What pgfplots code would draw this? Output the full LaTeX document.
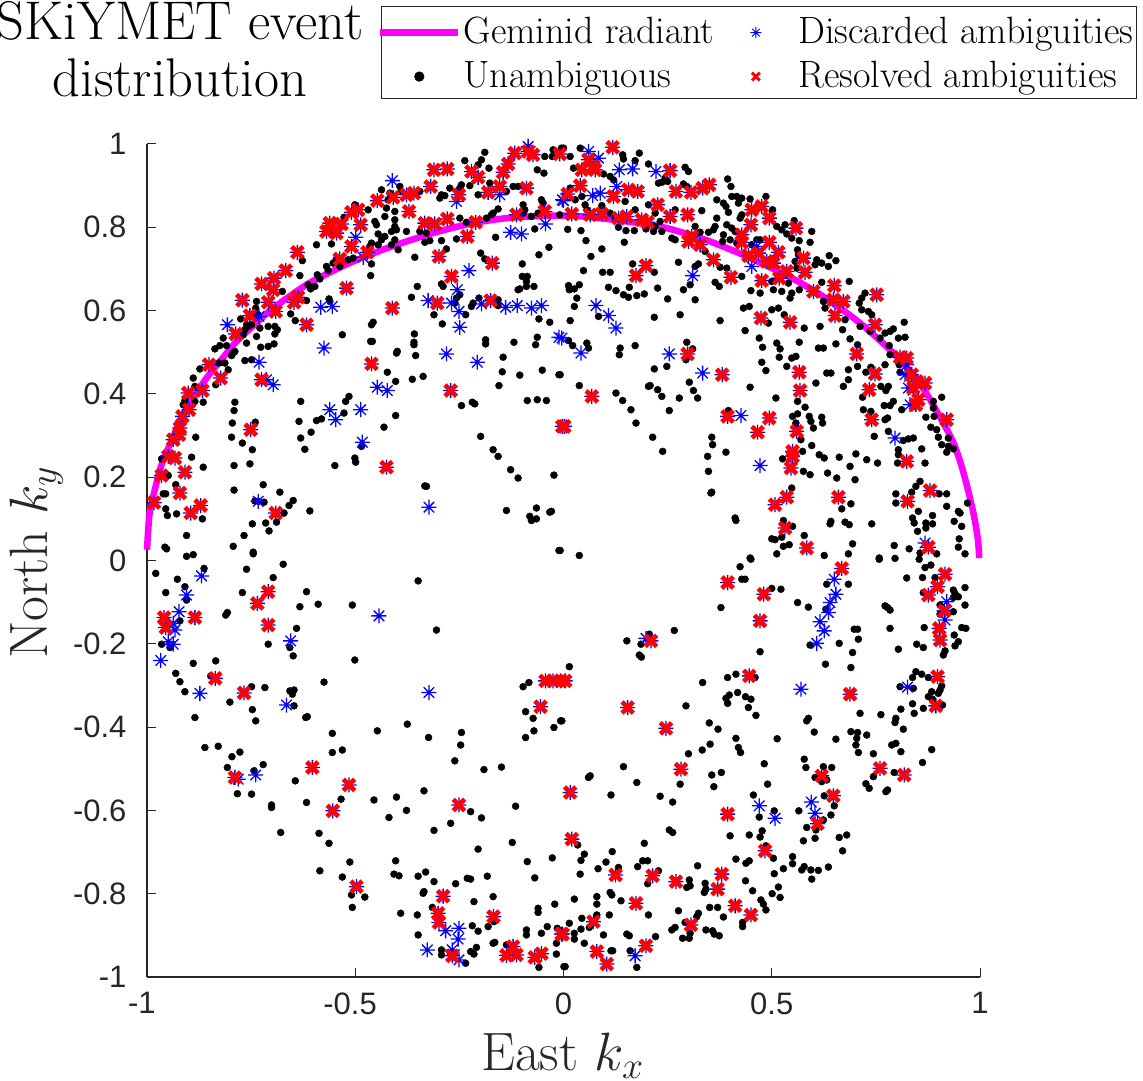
\RequirePackage{fix-cm}
\documentclass[border=0pt]{standalone}
\usepackage{fontspec}
\usepackage{pgfplots}
\usepackage{pgfplotstable}
\pgfplotsset{compat=1.18}
\newfontfamily\tickfont{Liberation Sans}
\definecolor{mag}{rgb}{1,0,1}
\pgfdeclareplotmark{ast8}{%
\pgfpathmoveto{\pgfqpoint{-\pgfplotmarksize}{0pt}}\pgfpathlineto{\pgfqpoint{\pgfplotmarksize}{0pt}}%
\pgfpathmoveto{\pgfqpoint{0pt}{-\pgfplotmarksize}}\pgfpathlineto{\pgfqpoint{0pt}{\pgfplotmarksize}}%
\pgfpathmoveto{\pgfqpoint{-.7\pgfplotmarksize}{-.7\pgfplotmarksize}}\pgfpathlineto{\pgfqpoint{.7\pgfplotmarksize}{.7\pgfplotmarksize}}%
\pgfpathmoveto{\pgfqpoint{-.7\pgfplotmarksize}{.7\pgfplotmarksize}}\pgfpathlineto{\pgfqpoint{.7\pgfplotmarksize}{-.7\pgfplotmarksize}}%
\pgfusepathqstroke}
\pgfplotstableread[row sep=crcr]{x y\\
-1.000 0.026\\-0.997 0.075\\-0.993 0.118\\-0.980 0.175\\-0.965 0.230\\-0.940 0.290\\-0.913 0.350\\-0.885 0.396\\-0.857 0.438\\-0.820 0.484\\-0.785 0.526\\-0.740 0.568\\-0.697 0.606\\-0.617 0.662\\-0.560 0.692\\-0.505 0.718\\-0.440 0.744\\-0.377 0.766\\-0.300 0.790\\-0.217 0.810\\-0.137 0.822\\-0.060 0.827\\0.003 0.828\\0.060 0.825\\0.120 0.818\\0.190 0.809\\0.248 0.798\\0.300 0.783\\0.352 0.766\\0.440 0.730\\0.552 0.676\\0.632 0.628\\0.712 0.570\\0.792 0.498\\0.840 0.445\\0.872 0.400\\0.928 0.300\\0.950 0.245\\0.968 0.182\\0.985 0.110\\0.995 0.050\\0.998 0.006\\
}\curveT
\pgfplotstableread[row sep=crcr]{x y\\
-0.189 0.980\\-0.197 0.962\\-0.237 0.960\\-0.205 0.950\\-0.179 0.942\\-0.063 0.938\\-0.047 0.930\\-0.045 0.970\\-0.025 0.986\\-0.027 0.970\\-0.005 0.990\\-0.437 0.890\\-0.393 0.898\\-0.389 0.886\\-0.345 0.886\\-0.273 0.894\\-0.245 0.902\\-0.225 0.900\\-0.249 0.894\\-0.293 0.878\\-0.285 0.876\\-0.297 0.870\\-0.205 0.878\\-0.177 0.906\\-0.121 0.898\\-0.109 0.898\\-0.137 0.886\\-0.097 0.854\\-0.053 0.866\\-0.049 0.858\\
-0.417 0.882\\-0.421 0.866\\-0.425 0.846\\-0.405 0.838\\-0.429 0.826\\-0.405 0.818\\-0.453 0.814\\-0.449 0.806\\-0.405 0.802\\-0.413 0.790\\-0.401 0.794\\-0.445 0.784\\-0.429 0.778\\-0.437 0.770\\-0.405 0.770\\-0.413 0.758\\-0.445 0.758\\-0.461 0.762\\-0.465 0.754\\-0.377 0.790\\-0.345 0.790\\-0.329 0.786\\-0.293 0.768\\-0.333 0.764\\-0.321 0.768\\-0.257 0.772\\-0.281 0.748\\-0.357 0.728\\-0.397 0.746\\-0.163 0.776\\-0.069 0.796\\-0.059 0.734\\-0.035 0.752\\-0.199 0.738\\-0.189 0.724\\-0.099 0.712\\-0.099 0.682\\-0.087 0.682\\-0.089 0.670\\-0.089 0.658\\-0.071 0.658\\-0.105 0.652\\-0.109 0.650\\
-0.249 0.822\\-0.233 0.812\\-0.185 0.822\\-0.173 0.830\\-0.157 0.844\\-0.169 0.834\\-0.097 0.834\\-0.093 0.842\\-0.077 0.826\\-0.061 0.834\\-0.009 0.830\\
-0.593 0.758\\-0.557 0.760\\-0.501 0.854\\-0.469 0.842\\-0.527 0.824\\-0.545 0.724\\-0.553 0.714\\-0.537 0.706\\-0.517 0.722\\-0.505 0.726\\-0.461 0.712\\-0.569 0.706\\-0.565 0.696\\-0.591 0.686\\-0.585 0.676\\-0.613 0.662\\-0.607 0.652\\-0.597 0.658\\-0.463 0.684\\-0.627 0.720\\-0.633 0.684\\-0.675 0.646\\-0.617 0.624\\-0.563 0.628\\-0.655 0.592\\-0.644 0.576\\-0.561 0.622\\
-0.737 0.622\\-0.739 0.606\\-0.733 0.590\\-0.741 0.582\\-0.761 0.566\\-0.765 0.554\\-0.757 0.562\\-0.749 0.566\\-0.769 0.542\\-0.761 0.522\\-0.737 0.538\\-0.729 0.558\\-0.709 0.562\\-0.693 0.562\\-0.687 0.554\\-0.693 0.544\\-0.727 0.512\\-0.709 0.514\\-0.695 0.520\\
-0.775 0.580\\-0.817 0.534\\-0.809 0.516\\-0.825 0.516\\-0.837 0.508\\-0.793 0.498\\-0.789 0.502\\-0.797 0.492\\-0.765 0.480\\-0.749 0.482\\-0.827 0.474\\-0.813 0.474\\-0.805 0.458\\-0.835 0.422\\-0.889 0.438\\-0.885 0.418\\-0.873 0.460\\
-0.909 0.384\\-0.913 0.374\\-0.885 0.382\\-0.865 0.380\\-0.883 0.296\\-0.893 0.248\\-0.865 0.224\\-0.965 0.244\\-0.949 0.204\\-0.931 0.182\\-0.961 0.160\\-0.955 0.160\\-0.955 0.124\\-0.951 0.108\\-0.929 0.112\\-0.867 0.100\\-0.905 0.060\\-0.957 0.032\\-0.953 0.028\\-0.905 0.010\\-0.889 0.014\\
-0.789 0.380\\-0.791 0.360\\-0.795 0.330\\-0.797 0.296\\-0.771 0.282\\-0.747 0.266\\-0.791 0.228\\-0.753 0.232\\-0.740 0.332\\
-0.631 0.382\\-0.635 0.334\\-0.631 0.294\\-0.606 0.308\\-0.621 0.267\\-0.593 0.336\\-0.581 0.340\\-0.527 0.354\\-0.523 0.382\\-0.515 0.394\\-0.549 0.228\\-0.501 0.246\\-0.499 0.236\\-0.431 0.320\\-0.403 0.348\\-0.485 0.274\\
-0.531 0.542\\-0.461 0.566\\-0.457 0.572\\-0.463 0.526\\-0.459 0.526\\-0.399 0.502\\-0.401 0.498\\-0.423 0.452\\-0.403 0.430\\-0.363 0.435\\-0.337 0.442\\-0.355 0.492\\-0.359 0.518\\-0.359 0.524\\-0.358 0.544\\-0.365 0.632\\-0.351 0.658\\-0.311 0.590\\-0.291 0.568\\-0.293 0.664\\-0.289 0.658\\
-0.257 0.630\\-0.249 0.638\\-0.261 0.618\\-0.217 0.618\\-0.221 0.610\\-0.235 0.590\\-0.203 0.630\\-0.157 0.626\\-0.157 0.612\\-0.059 0.580\\-0.033 0.572\\-0.187 0.530\\-0.187 0.520\\-0.119 0.524\\-0.063 0.536\\-0.067 0.518\\-0.145 0.488\\-0.147 0.453\\-0.105 0.445\\-0.051 0.457\\-0.011 0.446\\-0.155 0.420\\-0.087 0.384\\-0.063 0.386\\-0.041 0.384\\-0.219 0.380\\-0.213 0.376\\-0.245 0.372\\
-0.199 0.298\\-0.169 0.266\\-0.157 0.250\\-0.127 0.218\\-0.109 0.198\\-0.023 0.205\\-0.137 0.120\\-0.065 0.126\\-0.081 0.106\\-0.077 0.096\\-0.065 0.100\\-0.033 0.116\\-0.029 0.118\\-0.333 0.179\\-0.329 0.178\\-0.011 0.024\\
-0.721 0.182\\-0.791 0.169\\-0.681 0.164\\-0.649 0.144\\-0.659 0.132\\-0.671 0.114\\-0.609 0.119\\-0.689 0.092\\-0.715 0.090\\-0.747 0.088\\-0.707 0.071\\-0.767 0.060\\-0.793 0.034\\-0.745 0.020\\-0.745 0.016\\-0.733 0.142\\-0.741 0.143\\-0.719 0.140\\
0.000 0.990\\0.040 0.990\\0.016 0.970\\0.024 0.942\\0.142 0.974\\0.144 0.964\\0.172 0.960\\0.182 0.978\\0.204 0.952\\0.292 0.944\\0.300 0.934\\0.096 0.928\\0.112 0.922\\0.120 0.914\\0.244 0.918\\0.236 0.908\\0.228 0.906\\0.250 0.910\\0.288 0.904\\0.296 0.898\\0.394 0.916\\0.402 0.898\\0.368 0.866\\0.384 0.858\\0.390 0.850\\0.404 0.874\\0.416 0.874\\0.428 0.870\\0.420 0.858\\0.448 0.868\\0.486 0.874\\0.502 0.842\\0.396 0.836\\0.428 0.830\\0.424 0.822\\0.368 0.822\\0.332 0.840\\0.364 0.802\\0.360 0.794\\0.392 0.806\\0.404 0.798\\0.348 0.788\\0.328 0.788\\0.316 0.802\\0.412 0.790\\0.384 0.782\\0.382 0.766\\0.400 0.770\\0.416 0.762\\0.452 0.758\\0.464 0.770\\0.472 0.770\\0.512 0.802\\0.524 0.794\\0.532 0.806\\0.536 0.784\\0.554 0.816\\0.548 0.774\\0.566 0.768\\0.596 0.790\\0.592 0.764\\0.562 0.746\\0.564 0.734\\0.556 0.718\\0.560 0.702\\0.608 0.722\\0.604 0.710\\0.620 0.714\\0.636 0.706\\0.638 0.732\\0.654 0.720\\0.686 0.670\\0.620 0.668\\0.724 0.642\\0.716 0.630\\0.710 0.618\\0.716 0.602\\0.732 0.598\\0.740 0.590\\0.818 0.572\\0.804 0.534\\0.820 0.536\\0.792 0.556\\0.784 0.550\\0.772 0.546\\0.760 0.534\\0.782 0.516\\0.784 0.494\\0.736 0.550\\0.712 0.562\\0.676 0.578\\0.628 0.606\\0.624 0.622\\0.544 0.630\\0.548 0.642\\0.566 0.650\\0.524 0.646\\0.504 0.650\\0.472 0.642\\0.450 0.648\\0.500 0.670\\0.540 0.666\\0.428 0.682\\0.392 0.702\\0.376 0.704\\0.364 0.668\\0.374 0.658\\0.340 0.742\\0.324 0.712\\0.316 0.706\\0.276 0.716\\0.260 0.774\\0.268 0.770\\0.236 0.790\\0.216 0.790\\0.198 0.796\\0.170 0.792\\0.150 0.792\\0.132 0.800\\0.146 0.764\\0.042 0.792\\0.010 0.795\\0.054 0.768\\0.092 0.748\\0.066 0.730\\0.048 0.696\\0.094 0.692\\0.112 0.692\\0.166 0.712\\0.218 0.692\\
0.012 0.660\\0.014 0.650\\0.026 0.652\\0.038 0.662\\0.032 0.630\\0.026 0.610\\0.016 0.576\\0.108 0.656\\0.126 0.648\\0.158 0.656\\0.144 0.638\\0.156 0.632\\0.176 0.636\\0.194 0.640\\0.226 0.654\\0.250 0.628\\0.288 0.650\\0.304 0.662\\0.316 0.626\\0.218 0.584\\0.280 0.590\\0.084 0.586\\0.376 0.576\\0.432 0.606\\0.446 0.610\\0.500 0.602\\0.516 0.606\\0.530 0.590\\0.436 0.552\\0.492 0.570\\0.578 0.558\\0.616 0.562\\0.670 0.554\\0.470 0.534\\0.478 0.512\\0.512 0.522\\0.520 0.508\\0.518 0.488\\0.566 0.524\\0.476 0.476\\0.486 0.456\\0.536 0.466\\0.548 0.486\\0.558 0.490\\0.612 0.510\\0.624 0.510\\0.654 0.520\\0.688 0.532\\0.706 0.518\\0.706 0.466\\0.684 0.458\\0.632 0.450\\0.642 0.450\\0.606 0.426\\0.672 0.418\\0.684 0.434\\0.726 0.452\\0.738 0.464\\0.772 0.470\\0.762 0.418\\0.780 0.418\\0.774 0.408\\0.718 0.392\\0.792 0.382\\0.770 0.372\\0.784 0.372\\0.812 0.362\\0.806 0.470\\0.808 0.452\\
0.908 0.392\\0.888 0.382\\0.888 0.366\\0.870 0.344\\0.890 0.346\\0.882 0.320\\0.896 0.314\\0.900 0.296\\0.924 0.294\\0.908 0.278\\0.924 0.274\\0.936 0.268\\0.920 0.260\\0.840 0.294\\0.828 0.292\\0.816 0.288\\0.860 0.268\\0.868 0.234\\0.804 0.266\\0.804 0.254\\0.802 0.234\\0.780 0.310\\0.772 0.338\\0.778 0.342\\0.720 0.362\\0.738 0.358\\0.746 0.298\\
0.856 0.190\\0.846 0.178\\0.836 0.164\\0.798 0.160\\0.798 0.138\\0.902 0.160\\0.920 0.160\\0.920 0.130\\0.970 0.138\\0.948 0.118\\0.952 0.114\\0.938 0.094\\0.956 0.082\\0.950 0.052\\0.948 0.032\\0.964 0.016\\0.852 0.118\\0.886 0.108\\0.838 0.102\\0.842 0.090\\0.870 0.090\\0.886 0.088\\0.870 0.078\\0.850 0.070\\0.830 0.028\\0.794 0.036\\0.856 0.018\\0.896 0.016\\
0.690 0.136\\0.668 0.124\\0.740 0.088\\0.694 0.040\\0.642 0.094\\0.640 0.088\\0.676 0.092\\0.686 0.086\\0.578 0.060\\0.684 0.016\\0.758 0.006\\0.626 0.012\\0.548 0.174\\0.528 0.096\\0.550 0.082\\0.524 0.056\\0.500 0.052\\0.508 0.050\\0.528 0.034\\0.542 0.038\\0.512 0.016\\0.448 0.006\\0.412 0.102\\0.414 0.096\\0.354 0.162\\0.356 0.164\\0.348 0.214\\0.346 0.250\\0.390 0.260\\0.358 0.278\\0.356 0.296\\0.448 0.416\\0.510 0.390\\
0.526 0.244\\0.574 0.262\\0.596 0.276\\0.614 0.254\\0.626 0.246\\0.662 0.248\\0.702 0.256\\0.728 0.242\\0.754 0.234\\0.688 0.226\\0.700 0.194\\0.656 0.198\\0.634 0.210\\0.592 0.206\\0.576 0.214\\
0.562 0.382\\0.580 0.368\\0.550 0.346\\0.562 0.352\\0.558 0.330\\0.558 0.320\\0.570 0.290\\0.590 0.346\\0.594 0.334\\0.600 0.318\\0.620 0.344\\0.622 0.330\\
0.296 0.524\\0.310 0.508\\0.294 0.482\\0.172 0.516\\0.136 0.510\\0.134 0.494\\0.056 0.522\\0.060 0.510\\0.022 0.516\\0.012 0.528\\0.218 0.460\\0.248 0.466\\-0.008 0.446\\0.038 0.420\\0.126 0.402\\0.142 0.384\\0.162 0.362\\0.174 0.330\\0.214 0.296\\0.238 0.262\\0.254 0.360\\0.204 0.418\\0.208 0.420\\0.226 0.410\\0.236 0.394\\0.278 0.390\\0.302 0.428\\0.312 0.408\\0.322 0.390\\0.396 0.360\\-0.008 0.024\\0.038 0.012\\
0.052 0.854\\0.056 0.842\\0.092 0.852\\0.112 0.834\\0.124 0.822\\0.172 0.842\\0.148 0.862\\0.204 0.854\\0.220 0.834\\0.232 0.814\\0.220 0.802\\0.268 0.842\\0.028 0.866\\0.044 0.874\\0.016 0.894\\
-0.979 -0.031\\-0.863 -0.019\\-0.927 -0.045\\-0.955 -0.077\\-0.909 -0.063\\-0.761 -0.021\\-0.673 -0.009\\-0.697 -0.041\\-0.771 -0.077\\-0.617 -0.075\\-0.633 -0.111\\-0.589 -0.105\\-0.349 -0.049\\-0.507 -0.107\\-0.807 -0.125\\-0.811 -0.131\\-0.305 -0.167\\-0.641 -0.163\\-0.709 -0.201\\-0.657 -0.209\\-0.649 -0.229\\-0.501 -0.239\\-0.905 -0.095\\-0.921 -0.145\\-0.965 -0.201\\-0.945 -0.209\\-0.889 -0.247\\-0.835 -0.241\\-0.931 -0.271\\-0.921 -0.291\\-0.909 -0.315\\-0.847 -0.277\\-0.801 -0.340\\-0.885 -0.377\\-0.749 -0.303\\-0.717 -0.305\\-0.657 -0.313\\-0.647 -0.311\\-0.651 -0.321\\-0.647 -0.349\\-0.747 -0.358\\-0.739 -0.385\\-0.619 -0.377\\-0.615 -0.375\\-0.575 -0.292\\-0.555 -0.415\\-0.447 -0.409\\-0.375 -0.393\\-0.324 -0.425\\-0.245 -0.413\\-0.247 -0.443\\-0.261 -0.481\\-0.191 -0.502\\-0.149 -0.496\\-0.097 -0.303\\-0.083 -0.293\\-0.091 -0.363\\-0.073 -0.379\\-0.007 -0.385\\-0.023 -0.401\\-0.071 -0.409\\-0.091 -0.425\\
-0.861 -0.449\\-0.829 -0.446\\-0.777 -0.460\\-0.796 -0.471\\-0.807 -0.497\\-0.721 -0.490\\-0.743 -0.505\\-0.783 -0.560\\-0.749 -0.561\\-0.701 -0.587\\-0.701 -0.593\\-0.679 -0.653\\-0.644 -0.529\\-0.617 -0.581\\-0.555 -0.461\\-0.531 -0.455\\-0.534 -0.573\\-0.455 -0.575\\-0.401 -0.568\\-0.335 -0.553\\-0.419 -0.617\\-0.377 -0.600\\-0.271 -0.631\\-0.311 -0.648\\-0.223 -0.603\\-0.197 -0.618\\-0.115 -0.590\\-0.123 -0.677\\-0.205 -0.693\\-0.587 -0.655\\-0.563 -0.679\\-0.513 -0.724\\-0.585 -0.745\\-0.531 -0.760\\-0.403 -0.721\\-0.407 -0.753\\-0.395 -0.757\\-0.349 -0.758\\-0.331 -0.748\\-0.311 -0.771\\-0.259 -0.776\\-0.231 -0.763\\-0.223 -0.765\\-0.183 -0.758\\-0.087 -0.723\\-0.027 -0.714\\-0.069 -0.762\\-0.337 -0.799\\-0.335 -0.795\\-0.509 -0.803\\-0.477 -0.808\\-0.507 -0.833\\-0.391 -0.847\\-0.351 -0.851\\-0.349 -0.899\\-0.315 -0.833\\-0.215 -0.819\\-0.169 -0.807\\-0.061 -0.835\\-0.061 -0.845\\-0.021 -0.825\\-0.219 -0.877\\-0.205 -0.890\\-0.181 -0.879\\-0.167 -0.867\\-0.089 -0.887\\-0.089 -0.899\\-0.053 -0.895\\-0.039 -0.879\\-0.015 -0.883\\-0.017 -0.919\\-0.169 -0.919\\-0.165 -0.917\\-0.137 -0.923\\-0.209 -0.929\\-0.223 -0.939\\-0.215 -0.945\\-0.235 -0.967\\-0.293 -0.935\\-0.293 -0.947\\-0.017 -0.945\\-0.059 -0.977\\0.001 -0.975\\
0.450 0.003\\0.424 -0.015\\0.428 -0.045\\0.436 -0.045\\0.500 -0.067\\0.522 -0.069\\0.378 -0.113\\0.266 -0.168\\0.152 -0.193\\0.186 -0.201\\0.206 -0.177\\0.182 -0.227\\0.187 -0.232\\0.014 -0.255\\0.472 -0.219\\0.562 -0.101\\0.588 -0.112\\0.632 -0.057\\0.684 -0.057\\0.630 -0.117\\0.592 -0.203\\0.662 -0.199\\0.698 -0.165\\0.706 -0.165\\0.708 -0.189\\0.694 -0.221\\0.629 -0.249\\0.690 -0.257\\
0.758 0.003\\0.796 0.005\\0.854 0.003\\0.868 -0.017\\0.882 -0.011\\0.824 -0.042\\0.862 -0.041\\0.892 -0.041\\0.936 -0.071\\0.940 -0.079\\0.964 -0.065\\0.864 -0.077\\0.936 -0.089\\0.948 -0.087\\0.772 -0.109\\0.778 -0.113\\0.784 -0.119\\0.964 -0.107\\0.936 -0.123\\0.904 -0.129\\0.904 -0.107\\0.784 -0.163\\0.866 -0.161\\0.956 -0.161\\0.966 -0.163\\0.938 -0.179\\0.948 -0.195\\0.940 -0.205\\0.848 -0.201\\0.864 -0.209\\0.804 -0.213\\0.916 -0.217\\0.912 -0.227\\
0.846 -0.267\\0.860 -0.273\\0.838 -0.281\\0.876 -0.281\\0.808 -0.303\\0.840 -0.307\\0.908 -0.301\\0.904 -0.311\\0.884 -0.315\\0.876 -0.327\\0.886 -0.333\\0.900 -0.319\\0.910 -0.347\\0.838 -0.344\\0.864 -0.355\\0.810 -0.357\\0.842 -0.367\\0.762 -0.370\\0.798 -0.379\\0.796 -0.389\\0.816 -0.405\\0.712 -0.367\\0.690 -0.411\\0.706 -0.413\\0.728 -0.419\\0.704 -0.427\\0.708 -0.461\\0.702 -0.443\\0.654 -0.429\\0.602 -0.412\\0.588 -0.379\\0.584 -0.385\\0.788 -0.443\\0.798 -0.439\\0.810 -0.459\\0.884 -0.454\\0.862 -0.485\\0.744 -0.464\\0.794 -0.509\\0.744 -0.519\\0.726 -0.536\\0.734 -0.547\\0.774 -0.555\\0.778 -0.551\\
0.578 -0.477\\0.582 -0.497\\0.624 -0.495\\0.644 -0.497\\0.604 -0.521\\0.620 -0.531\\0.632 -0.527\\0.626 -0.565\\0.650 -0.589\\0.565 -0.601\\0.642 -0.611\\0.624 -0.623\\0.584 -0.641\\0.606 -0.647\\0.604 -0.667\\0.576 -0.673\\0.662 -0.665\\0.680 -0.659\\0.670 -0.697\\
0.506 -0.601\\0.470 -0.616\\0.490 -0.537\\0.482 -0.488\\0.456 -0.563\\0.513 -0.428\\0.414 -0.427\\0.420 -0.449\\0.425 -0.461\\0.352 -0.441\\0.333 -0.455\\0.300 -0.464\\0.371 -0.405\\0.350 -0.390\\0.462 -0.372\\0.444 -0.353\\0.450 -0.333\\0.437 -0.327\\0.418 -0.317\\0.398 -0.323\\0.390 -0.331\\0.394 -0.343\\0.334 -0.293\\0.294 -0.349\\0.394 -0.281\\0.414 -0.273\\0.460 -0.281\\
-0.004 -0.385\\0.144 -0.495\\0.060 -0.521\\0.064 -0.517\\0.176 -0.533\\0.114 -0.563\\0.232 -0.566\\0.262 -0.580\\0.356 -0.515\\0.379 -0.509\\0.280 -0.537\\0.361 -0.543\\
0.254 -0.647\\0.262 -0.653\\0.194 -0.679\\0.117 -0.699\\0.050 -0.705\\0.042 -0.720\\0.034 -0.683\\0.102 -0.724\\0.190 -0.721\\0.202 -0.721\\0.178 -0.735\\0.083 -0.740\\0.132 -0.737\\0.040 -0.753\\0.322 -0.733\\0.228 -0.745\\0.202 -0.776\\0.302 -0.767\\0.296 -0.785\\0.304 -0.781\\0.340 -0.775\\0.338 -0.797\\0.342 -0.789\\
0.400 -0.661\\0.446 -0.659\\0.472 -0.664\\0.477 -0.649\\0.486 -0.685\\0.504 -0.715\\0.414 -0.717\\0.438 -0.727\\0.446 -0.721\\0.506 -0.752\\0.528 -0.740\\0.550 -0.711\\0.550 -0.728\\0.572 -0.743\\0.578 -0.735\\0.594 -0.743\\0.612 -0.744\\0.596 -0.765\\0.636 -0.736\\0.437 -0.769\\0.516 -0.784\\0.454 -0.793\\0.501 -0.800\\0.520 -0.809\\0.474 -0.815\\0.480 -0.825\\0.486 -0.839\\0.370 -0.833\\0.351 -0.833\\0.384 -0.856\\0.430 -0.869\\0.430 -0.879\\0.276 -0.841\\0.320 -0.855\\0.324 -0.847\\0.292 -0.869\\0.268 -0.881\\0.260 -0.887\\0.304 -0.895\\0.342 -0.887\\0.358 -0.889\\0.362 -0.897\\0.374 -0.901\\0.286 -0.907\\0.302 -0.907\\
0.112 -0.797\\0.116 -0.803\\0.080 -0.807\\0.026 -0.813\\0.138 -0.817\\0.080 -0.825\\0.204 -0.851\\0.110 -0.851\\0.080 -0.851\\0.044 -0.859\\0.014 -0.871\\0.042 -0.885\\0.062 -0.881\\0.026 -0.895\\0.026 -0.909\\0.096 -0.899\\0.152 -0.897\\0.158 -0.901\\0.221 -0.903\\0.050 -0.919\\0.114 -0.937\\0.118 -0.937\\0.160 -0.937\\0.176 -0.977\\0.004 -0.975\\
}\blackT
\pgfplotstableread[row sep=crcr]{x y\\
-0.983 0.139\\-0.921 0.162\\-0.895 0.114\\-0.871 0.132\\-0.691 0.114\\-0.909 0.212\\-0.965 0.204\\-0.949 0.250\\-0.933 0.246\\-0.937 0.290\\-0.921 0.318\\-0.923 0.302\\-0.915 0.346\\-0.899 0.362\\-0.901 0.402\\-0.867 0.408\\-0.823 0.438\\-0.851 0.470\\-0.725 0.434\\-0.751 0.314\\-0.787 0.544\\-0.753 0.588\\-0.691 0.598\\-0.709 0.620\\-0.697 0.650\\-0.695 0.678\\-0.725 0.664\\-0.771 0.625\\-0.667 0.696\\-0.639 0.740\\-0.617 0.566\\-0.647 0.620\\-0.637 0.632\\-0.521 0.654\\-0.537 0.724\\-0.509 0.754\\-0.471 0.740\\-0.411 0.606\\-0.461 0.472\\-0.271 0.408\\-0.425 0.224\\-0.003 0.322\\
-0.569 0.790\\-0.557 0.802\\-0.545 0.786\\-0.533 0.808\\-0.561 0.810\\-0.487 0.806\\-0.509 0.836\\-0.493 0.842\\-0.447 0.864\\-0.409 0.872\\-0.371 0.838\\-0.377 0.878\\-0.359 0.882\\-0.319 0.898\\-0.311 0.938\\-0.279 0.940\\-0.221 0.934\\-0.205 0.920\\-0.251 0.878\\-0.333 0.810\\-0.309 0.808\\-0.279 0.820\\-0.211 0.812\\-0.231 0.778\\-0.171 0.714\\-0.299 0.730\\-0.269 0.682\\-0.303 0.618\\-0.175 0.624\\-0.181 0.884\\-0.153 0.898\\-0.089 0.894\\-0.145 0.932\\-0.133 0.952\\-0.117 0.978\\-0.085 0.982\\-0.073 0.974\\-0.009 0.976\\-0.113 0.830\\-0.045 0.838\\
0.118 0.992\\0.060 0.962\\0.044 0.938\\0.072 0.946\\0.076 0.938\\0.256 0.936\\0.040 0.900\\0.010 0.880\\0.120 0.874\\0.156 0.890\\0.178 0.886\\0.270 0.886\\0.306 0.884\\0.334 0.894\\0.350 0.902\\0.226 0.854\\0.298 0.830\\0.256 0.826\\0.202 0.812\\0.188 0.818\\0.152 0.826\\0.132 0.822\\0.092 0.832\\0.064 0.830\\0.020 0.832\\0.300 0.766\\0.308 0.778\\0.328 0.758\\0.360 0.722\\0.402 0.680\\0.452 0.842\\0.476 0.850\\0.494 0.822\\0.450 0.806\\0.428 0.782\\0.428 0.764\\0.558 0.798\\0.494 0.764\\0.516 0.740\\0.444 0.732\\0.468 0.738\\0.488 0.718\\0.504 0.714\\0.536 0.694\\0.518 0.678\\0.476 0.672\\0.576 0.726\\0.580 0.692\\0.600 0.646\\0.650 0.660\\0.752 0.638\\0.648 0.626\\0.672 0.622\\0.652 0.588\\0.748 0.566\\0.474 0.582\\0.544 0.572\\0.704 0.496\\0.808 0.488\\0.824 0.486\\0.748 0.448\\0.734 0.410\\0.836 0.446\\0.848 0.430\\0.868 0.426\\0.840 0.414\\0.852 0.386\\0.846 0.374\\0.920 0.338\\0.740 0.338\\0.566 0.452\\0.568 0.408\\0.560 0.310\\0.550 0.262\\0.550 0.250\\0.546 0.222\\0.494 0.342\\0.466 0.308\\0.394 0.346\\0.381 0.446\\0.298 0.496\\0.198 0.708\\0.174 0.684\\0.068 0.394\\0.002 0.322\\0.824 0.238\\0.536 0.152\\0.508 0.134\\0.660 0.152\\0.826 0.142\\0.880 0.168\\0.532 0.078\\0.584 0.030\\0.876 0.032\\
-0.709 -0.075\\-0.735 -0.103\\-0.709 -0.155\\-0.885 -0.137\\-0.959 -0.137\\-0.955 -0.161\\-0.836 -0.283\\-0.767 -0.318\\-0.789 -0.521\\-0.603 -0.497\\-0.515 -0.539\\-0.554 -0.601\\-0.497 -0.783\\-0.251 -0.587\\-0.289 -0.806\\-0.168 -0.855\\-0.301 -0.847\\-0.299 -0.869\\-0.267 -0.949\\-0.121 -0.927\\-0.137 -0.948\\-0.113 -0.947\\-0.069 -0.953\\-0.053 -0.944\\-0.005 -0.897\\-0.055 -0.351\\-0.043 -0.289\\-0.025 -0.289\\-0.007 -0.289\\
0.668 -0.019\\0.916 -0.033\\0.898 -0.063\\0.876 -0.083\\0.914 -0.121\\0.902 -0.163\\0.904 -0.191\\0.394 -0.053\\0.481 -0.081\\0.472 -0.145\\0.210 -0.193\\0.004 -0.289\\0.446 -0.277\\0.688 -0.321\\0.898 -0.279\\0.894 -0.349\\0.154 -0.353\\0.246 -0.403\\0.282 -0.501\\0.016 -0.557\\0.394 -0.609\\0.620 -0.517\\0.648 -0.565\\0.610 -0.632\\0.760 -0.499\\0.818 -0.515\\0.020 -0.669\\0.484 -0.697\\0.125 -0.755\\0.214 -0.757\\0.270 -0.771\\0.380 -0.753\\0.370 -0.789\\0.174 -0.823\\0.412 -0.829\\0.450 -0.851\\0.072 -0.867\\0.306 -0.875\\-0.002 -0.897\\0.198 -0.925\\0.080 -0.939\\0.104 -0.969\\
}\redT
\pgfplotstableread[row sep=crcr]{x y\\
-0.411 0.912\\-0.807 0.566\\-0.731 0.586\\-0.583 0.608\\-0.555 0.610\\-0.731 0.476\\-0.575 0.510\\-0.697 0.422\\-0.713 0.434\\-0.447 0.416\\-0.423 0.408\\-0.561 0.362\\-0.547 0.338\\-0.487 0.362\\-0.483 0.284\\-0.733 0.142\\-0.323 0.128\\-0.281 0.496\\-0.207 0.476\\-0.249 0.560\\-0.325 0.624\\-0.269 0.618\\-0.251 0.598\\-0.255 0.650\\-0.197 0.616\\-0.139 0.608\\-0.111 0.612\\-0.077 0.606\\-0.053 0.612\\-0.011 0.536\\-0.227 0.696\\-0.127 0.788\\-0.101 0.784\\-0.043 0.808\\-0.257 0.862\\-0.499 0.776\\-0.153 0.878\\-0.085 0.994\\-0.003 0.866\\-0.481 0.728\\
0.134 0.938\\0.166 0.940\\0.222 0.934\\0.084 0.966\\0.060 0.982\\0.128 0.898\\0.070 0.876\\0.088 0.882\\0.000 0.864\\0.310 0.684\\0.452 0.706\\0.464 0.754\\0.078 0.612\\0.108 0.588\\0.126 0.558\\-0.004 0.534\\0.042 0.498\\0.254 0.496\\0.334 0.450\\0.426 0.348\\0.472 0.228\\0.796 0.294\\0.824 0.470\\0.820 0.446\\0.828 0.414\\0.832 0.374\\0.868 0.042\\
-0.869 -0.037\\-0.905 -0.083\\-0.923 -0.123\\-0.937 -0.151\\-0.933 -0.167\\-0.949 -0.195\\-0.937 -0.201\\-0.967 -0.240\\-0.873 -0.319\\-0.665 -0.347\\-0.739 -0.515\\-0.781 -0.525\\-0.655 -0.193\\-0.443 -0.133\\-0.323 -0.317\\-0.327 -0.935\\-0.283 -0.889\\-0.251 -0.883\\-0.253 -0.909\\-0.267 -0.935\\-0.251 -0.959\\
0.650 -0.045\\0.654 -0.081\\0.640 -0.101\\0.636 -0.125\\0.616 -0.147\\0.626 -0.169\\0.608 -0.199\\0.570 -0.309\\0.826 -0.304\\0.920 -0.099\\0.916 -0.143\\0.470 -0.589\\0.508 -0.619\\0.595 -0.580\\0.604 -0.607\\0.172 -0.949\\0.198 -0.187\\
}\blueT
\definecolor{axc}{gray}{0.15}
\begin{document}
\begin{tikzpicture}[x=1pt,y=1pt]
\useasboundingbox (0,0) rectangle (1143,1081);
\begin{axis}[
 at={(147pt,104pt)},anchor=south west,
 scale only axis,width=833pt,height=833pt,
 xmin=-1,xmax=1,ymin=-1,ymax=1,
 axis x line*=bottom,axis y line*=left,
 axis line style={color=axc,line width=1.1pt,-},
 xtick={-1,-0.5,0,0.5,1},xticklabels={\llap{-}1,\llap{-}0.5,0,0.5,1},
 ytick={-1,-0.8,-0.6,-0.4,-0.2,0,0.2,0.4,0.6,0.8,1},
 yticklabels={-1,-0.8,-0.6,-0.4,-0.2,0,0.2,0.4,0.6,0.8,1},
 tick align=inside,
 major tick length=9pt,
 tick style={color=axc,line width=1pt},
 tick label style={font=\fontsize{31}{34}\selectfont\tickfont,color=axc},
 xticklabel style={yshift=-12pt},
 yticklabel style={xshift=-17pt},
 xlabel={East $k_x$},ylabel={North $k_y$},
 xlabel style={font=\fontsize{54}{57}\selectfont,color=axc,at={(axis description cs:0.4988,-0.0945)},anchor=center},
 ylabel style={font=\fontsize{54}{57}\selectfont,color=axc,at={(axis description cs:-0.1326,0.4975)},anchor=center,rotate=0},
 clip=false,
 legend columns=2,
 legend cell align=left,
 legend image code/.code={\path (0pt,0pt) (73pt,0pt);\draw[overlay,mark repeat=2,mark phase=2,#1] plot coordinates {(-5pt,0pt)(34pt,0pt)(73pt,0pt)};},
 legend style={at={(axis description cs:1.1885,1.0540)},anchor=south east,draw=axc,line width=1pt,
   font=\fontsize{38}{40}\selectfont,inner xsep=1pt,inner ysep=8pt,
   row sep=12pt,
   nodes={yshift=2pt},
   /tikz/every even column/.append style={column sep=4pt}},
]
\addlegendimage{mag,line width=6.5pt}
\addlegendentry{Geminid radiant}
\addlegendimage{only marks,blue,mark=ast8,mark size=5.5pt,line width=1pt}
\addlegendentry{Discarded ambiguities}
\addlegendimage{only marks,black,mark=*,mark size=4.6pt}
\addlegendentry{Unambiguous}
\addlegendimage{only marks,red,mark=x,mark size=5.5pt,line width=3pt}
\addlegendentry{Resolved ambiguities}
\addplot[mag,line width=6.5pt,smooth,forget plot] table {\curveT};
\addplot[only marks,black,mark=*,mark size=3.5pt,forget plot] table {\blackT};
\addplot[only marks,blue,mark=ast8,mark size=7.5pt,line width=1.3pt,forget plot] table {\redT};
\addplot[only marks,blue,mark=ast8,mark size=7.5pt,line width=1.3pt,forget plot] table {\blueT};
\addplot[only marks,red,mark=x,mark size=8pt,line width=4.6pt,forget plot] table {\redT};
\end{axis}
\node[font=\fontsize{54.5}{57}\selectfont,align=center,anchor=center,text=black] at (180,1032) {SKiYMET event\\distribution};
\end{tikzpicture}
\end{document}
